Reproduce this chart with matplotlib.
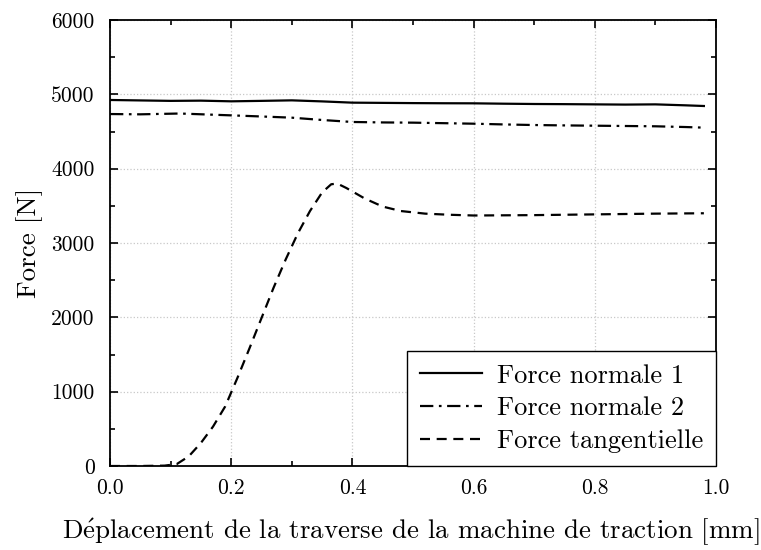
import matplotlib
matplotlib.use("Agg")
import matplotlib.pyplot as plt
from matplotlib.ticker import MultipleLocator

plt.rcParams['font.family'] = ['cmr10', 'DejaVu Serif']
plt.rcParams['mathtext.fontset'] = 'cm'
plt.rcParams['axes.formatter.use_mathtext'] = True

# Data
x_n1 = [0.0, 0.05, 0.1, 0.15, 0.2, 0.25, 0.3, 0.35, 0.4, 0.45, 0.5, 0.55, 0.6,
        0.65, 0.7, 0.75, 0.8, 0.85, 0.9, 0.95, 0.98]
f_n1 = [4924, 4918, 4912, 4915, 4906, 4912, 4919, 4905, 4888, 4885, 4882, 4880, 4879,
        4874, 4870, 4868, 4865, 4862, 4865, 4852, 4843]

x_n2 = [0.0, 0.05, 0.115, 0.2, 0.25, 0.3, 0.35, 0.4, 0.45, 0.5, 0.55, 0.6,
        0.65, 0.7, 0.75, 0.8, 0.85, 0.9, 0.95, 0.98]
f_n2 = [4735, 4731, 4742, 4717, 4702, 4686, 4655, 4628, 4622, 4619, 4612, 4605,
        4595, 4587, 4582, 4578, 4574, 4570, 4560, 4552]

x_t = [0.0, 0.05, 0.09, 0.11, 0.13, 0.15, 0.17, 0.19, 0.21, 0.23, 0.25, 0.27, 0.29,
       0.31, 0.33, 0.35, 0.365, 0.375, 0.39, 0.42, 0.45, 0.48, 0.52, 0.56, 0.6,
       0.7, 0.8, 0.9, 0.98]
f_t = [0, 0, 5, 25, 130, 310, 530, 800, 1180, 1580, 1990, 2400, 2780,
       3130, 3430, 3680, 3790, 3800, 3740, 3600, 3490, 3430, 3395, 3380, 3370,
       3375, 3385, 3395, 3400]

labels = ['Force normale 1', 'Force normale 2', 'Force tangentielle']

fig = plt.figure(figsize=(7.61, 5.5), dpi=100)
ax = fig.add_axes([110/761, 1 - 466/550, 606/761, 446/550])

lw = 1.6
ax.plot(x_n1, f_n1, color='black', lw=lw, linestyle='-', label=labels[0])
ax.plot(x_n2, f_n2, color='black', lw=lw, linestyle=(0, (6, 2.5, 1.2, 2.5)), label=labels[1])
ax.plot(x_t, f_t, color='black', lw=lw, linestyle=(0, (4.5, 3)), label=labels[2])

ax.set_xlim(0, 1)
ax.set_ylim(0, 6000)
ax.xaxis.set_major_locator(MultipleLocator(0.2))
ax.xaxis.set_minor_locator(MultipleLocator(0.1))
ax.yaxis.set_major_locator(MultipleLocator(1000))
ax.yaxis.set_minor_locator(MultipleLocator(500))
ax.xaxis.set_major_formatter(matplotlib.ticker.FormatStrFormatter('%.1f'))
ax.yaxis.set_major_formatter(matplotlib.ticker.FormatStrFormatter('%d'))

ax.tick_params(which='both', direction='in', top=True, right=True, width=1.2,
               labelsize=15.5)
ax.tick_params(which='major', length=6)
ax.tick_params(which='minor', length=3.5)
ax.tick_params(axis='x', which='major', pad=9)
ax.tick_params(axis='y', which='major', pad=11)
for s in ax.spines.values():
    s.set_linewidth(1.3)

ax.grid(True, which='major', color='#c8c8c8', linestyle=':', linewidth=0.9)
ax.set_axisbelow(True)

ax.set_xlabel(r'D$\mathrm{\acute{e}}$placement de la traverse de la machine de traction [mm]',
              fontsize=19.4)
ax.xaxis.set_label_coords((411 - 110) / 606, -0.115)
ax.set_ylabel('Force [N]', fontsize=19.5, labelpad=6)

leg = ax.legend(loc='lower right', fontsize=19, frameon=True, fancybox=False,
                edgecolor='black', framealpha=1, borderaxespad=0,
                handlelength=2.35, handletextpad=0.57, labelspacing=0.345,
                borderpad=0.485)
leg.get_frame().set_linewidth(1.0)

fig.savefig('out.png', dpi=100)
